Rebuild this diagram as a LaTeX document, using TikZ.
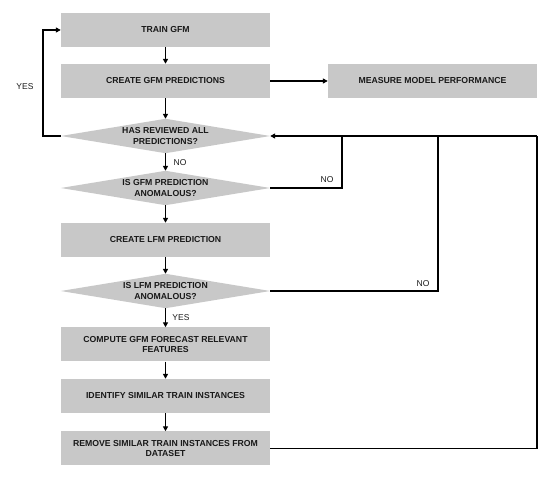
\documentclass[tikz,border=0pt]{standalone}
\usepackage{fontspec}
\setmainfont{Liberation Sans}
\usetikzlibrary{arrows.meta,backgrounds}
\definecolor{boxgray}{RGB}{200,200,200}
\definecolor{txt}{RGB}{25,25,25}
\tikzset{
  stepbox/.style={rectangle, fill=boxgray, minimum width=209pt, minimum height=34pt, inner sep=0pt,
    font=\bfseries\fontsize{8.7}{10.5}\selectfont, align=center, text=txt},
  decbox/.style={rectangle, minimum width=209pt, minimum height=34pt, inner sep=0pt,
    font=\bfseries\fontsize{8.7}{10.5}\selectfont, align=center, text=txt},
  conn/.style={line width=1.4pt, black},
  arr/.style={conn, -{Triangle[length=5pt,width=5pt]}},
  lbl/.style={font=\fontsize{8.5}{10}\selectfont, text=txt, inner sep=0pt},
}
\begin{document}
\begin{tikzpicture}[x=1pt,y=-1pt]
\useasboundingbox (0,0) rectangle (550,486);
\node[stepbox] (train) at (165.5,30) {TRAIN GFM};
\node[stepbox] (create) at (165.5,81) {CREATE GFM PREDICTIONS};
\node[stepbox] (measure) at (432.5,81) {MEASURE MODEL PERFORMANCE};
\node[decbox] (d1) at (165.5,136) {HAS REVIEWED ALL\\PREDICTIONS?};
\node[decbox] (d2) at (165.5,188) {IS GFM PREDICTION\\ANOMALOUS?};
\node[stepbox] (lfm) at (165.5,240) {CREATE LFM PREDICTION};
\node[decbox] (d3) at (165.5,291) {IS LFM PREDICTION\\ANOMALOUS?};
\node[stepbox] (compute) at (165.5,344.5) {COMPUTE GFM FORECAST RELEVANT\\FEATURES};
\node[stepbox] (identify) at (165.5,396) {IDENTIFY SIMILAR TRAIN INSTANCES};
\node[stepbox] (remove) at (165.5,448.5) {REMOVE SIMILAR TRAIN INSTANCES FROM\\DATASET};
\begin{pgfonlayer}{background}
\foreach \d in {d1,d2,d3}
  \fill[boxgray] (\d.west) -- (\d.north) -- (\d.east) -- (\d.south) -- cycle;
\end{pgfonlayer}
% main flow
\draw[arr] (train) -- (create);
\draw[arr] (create) -- (d1);
\draw[arr] (d1) -- (d2);
\draw[arr] (d2) -- (lfm);
\draw[arr] (lfm) -- (d3);
\draw[arr] (d3) -- (compute);
\draw[arr] (compute) -- (identify);
\draw[arr] (identify) -- (remove);
\draw[arr] (create) -- (measure);
% yes loop
\coordinate (yl) at (43,136);
\draw[arr] (d1.west) -- (yl) |- (train.west);
% return loops
\coordinate (r1) at (342,136);
\coordinate (r2) at (438,136);
\coordinate (r3) at (537,136);
\draw[conn] (d2.east) -| (r1);
\draw[conn] (d3.east) -| (r2);
\draw[conn] (remove.east) -| (r3);
\draw[arr] (r3) -- (d1.east);
% labels
\node[lbl] (yesl) at (25,87) {YES};
\node[lbl] (no1) at (180,163) {NO};
\node[lbl] (yes2) at (181,318) {YES};
\node[lbl] (no2) at (327,180) {NO};
\node[lbl] (no3) at (423,284) {NO};
\end{tikzpicture}
\end{document}
